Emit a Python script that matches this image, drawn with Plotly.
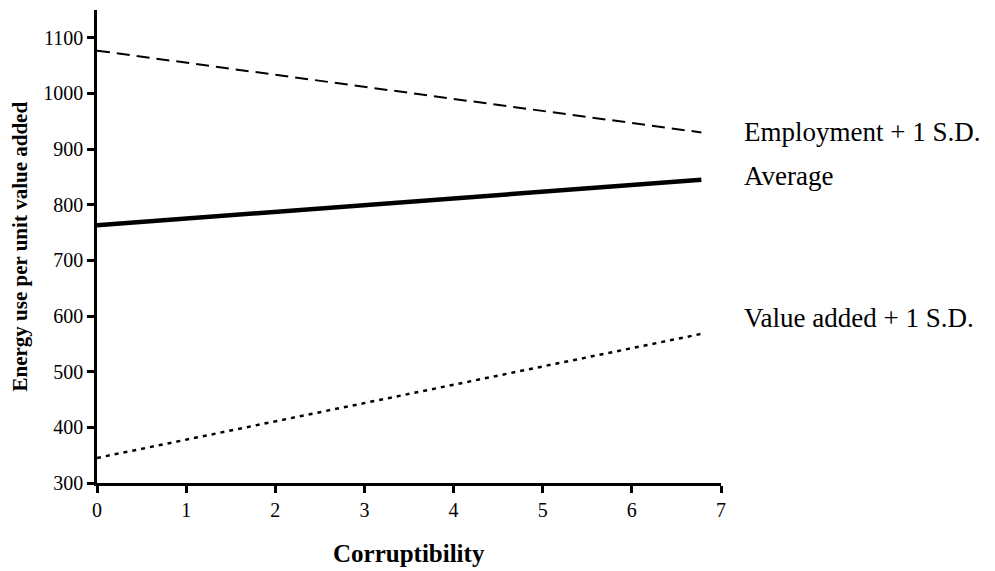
import plotly.graph_objects as go

corruptibility = [0, 6.78]
employment_sd = [1077, 930]
average = [763, 845]
value_added_sd = [345, 568]

series_names = ["Employment + 1 S.D.", "Average", "Value added + 1 S.D."]
label_y = [930, 852, 597]

x_ticks = [0, 1, 2, 3, 4, 5, 6, 7]
y_ticks = [300, 400, 500, 600, 700, 800, 900, 1000, 1100]

FONT = "Liberation Serif, Times New Roman, serif"

fig = go.Figure()
fig.add_trace(go.Scatter(x=corruptibility, y=employment_sd, mode="lines",
                         line=dict(color="black", width=2, dash="13px,7px"),
                         name=series_names[0], showlegend=False))
fig.add_trace(go.Scatter(x=corruptibility, y=average, mode="lines",
                         line=dict(color="black", width=4.5),
                         name=series_names[1], showlegend=False))
fig.add_trace(go.Scatter(x=corruptibility, y=value_added_sd, mode="lines",
                         line=dict(color="black", width=2.5, dash="4px,5px"),
                         name=series_names[2], showlegend=False))

for name, ly in zip(series_names, label_y):
    fig.add_annotation(x=1.034, xref="paper", y=ly, yref="y", text=name,
                       showarrow=False, xanchor="left", yanchor="middle",
                       font=dict(family=FONT, size=27, color="black"))

# axis titles
fig.add_annotation(x=-0.125, xref="paper", y=0.5, yref="paper",
                   text="<b>Energy use per unit value added</b>", textangle=-90,
                   showarrow=False, xanchor="center", yanchor="middle",
                   font=dict(family=FONT, size=21, color="black"))
fig.add_annotation(x=0.5, xref="paper", y=-0.148, yref="paper",
                   text="<b>Corruptibility</b>",
                   showarrow=False, xanchor="center", yanchor="middle",
                   font=dict(family=FONT, size=25, color="black"))

fig.update_layout(
    width=987, height=563,
    margin=dict(l=89, r=274, t=2, b=88),
    paper_bgcolor="white", plot_bgcolor="white",
    font=dict(family=FONT, color="black", size=20),
    xaxis=dict(range=[0, 7], tickvals=x_ticks, showgrid=False, zeroline=False,
               automargin=False,
               showline=True, linecolor="black", linewidth=2.5,
               ticks="outside", ticklen=7, tickwidth=2.5, tickcolor="black",
               tickfont=dict(family=FONT, size=20, color="black")),
    yaxis=dict(range=[300, 1150], tickvals=y_ticks, showgrid=False, zeroline=False,
               automargin=False,
               showline=True, linecolor="black", linewidth=2.5,
               ticks="outside", ticklen=7, tickwidth=2.5, tickcolor="black",
               tickfont=dict(family=FONT, size=20, color="black")),
)

fig.write_html("out.html")
